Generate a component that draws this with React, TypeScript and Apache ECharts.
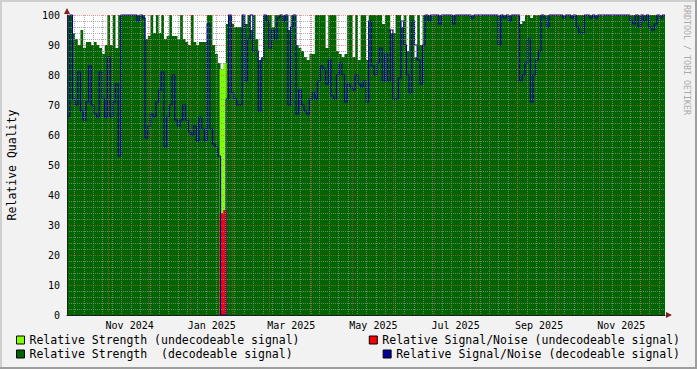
import React, { useEffect, useRef } from 'react';
import * as echarts from 'echarts';

// ---- data ----
const DAY = 86400000;
const START = Date.UTC(2024, 9, 1, 12); // left edge of the graph
const SPAN_DAYS = 444;
const END = START + SPAN_DAYS * DAY;
const STEP_DAYS = 2; // one sample every two days

// Relative Strength (decodeable signal), one value per 2-day sample
const strength: number[] = [
  100, 100, 94, 92, 90, 95, 89, 91, 91, 90,
  91, 90, 89, 87, 90, 100, 90, 100, 89, 100,
  100, 100, 100, 100, 100, 100, 100, 100, 100, 92,
  93, 100, 94, 100, 94, 100, 92, 93, 100, 93,
  93, 92, 100, 92, 91, 90, 100, 91, 90, 91,
  91, 91, 100, 100, 90, 87, 84, 0, 0, 97,
  100, 97, 96, 96, 96, 100, 97, 100, 95, 100,
  92, 85, 86, 100, 100, 100, 96, 100, 100, 100,
  100, 100, 95, 100, 100, 90, 89, 88, 86, 85,
  87, 87, 100, 100, 100, 100, 89, 100, 100, 100,
  88, 87, 86, 87, 100, 100, 86, 100, 85, 100,
  100, 85, 100, 100, 100, 100, 100, 97, 100, 100,
  94, 94, 100, 100, 96, 100, 88, 100, 100, 86,
  100, 90, 100, 100, 100, 100, 100, 100, 100, 100,
  100, 100, 100, 100, 100, 100, 100, 100, 100, 100,
  100, 100, 100, 100, 100, 100, 100, 100, 100, 100,
  100, 100, 100, 100, 100, 100, 100, 100, 97, 98,
  100, 100, 99, 100, 100, 100, 100, 100, 100, 100,
  100, 100, 100, 100, 100, 100, 100, 100, 100, 100,
  100, 100, 100, 100, 100, 100, 100, 100, 100, 100,
  100, 100, 100, 100, 100, 100, 100, 100, 100, 100,
  100, 100, 100, 100, 100, 100, 100, 100, 100, 100,
  100, 100,
];

// Relative Signal/Noise (decodeable signal)
const snr: number[] = [
  66, 100, 72, 70, 81, 68, 65, 71, 83, 70,
  67, 66, 81, 72, 66, 86, 66, 71, 77, 53,
  100, 100, 100, 100, 100, 100, 98, 100, 99, 59,
  63, 67, 66, 71, 75, 81, 56, 66, 70, 80,
  65, 63, 65, 70, 65, 61, 60, 63, 58, 66,
  62, 58, 97, 62, 57, 56, 53, 0, 0, 72,
  100, 74, 72, 70, 70, 100, 78, 92, 100, 88,
  88, 68, 85, 100, 98, 89, 95, 92, 99, 100,
  98, 100, 70, 96, 100, 67, 75, 70, 68, 67,
  72, 74, 72, 78, 83, 82, 77, 85, 73, 72,
  80, 84, 80, 71, 77, 76, 75, 80, 77, 76,
  78, 71, 98, 83, 80, 84, 89, 78, 87, 78,
  95, 72, 72, 79, 98, 90, 80, 74, 98, 90,
  85, 77, 90, 100, 98, 100, 100, 100, 97, 100,
  100, 100, 100, 97, 100, 100, 100, 100, 100, 100,
  99, 100, 100, 100, 100, 100, 100, 100, 100, 100,
  90, 100, 99, 100, 98, 100, 100, 100, 78, 80,
  84, 92, 71, 80, 85, 88, 100, 99, 96, 100,
  100, 100, 100, 100, 99, 100, 100, 99, 100, 96,
  94, 94, 100, 100, 99, 100, 99, 100, 100, 100,
  100, 100, 100, 100, 100, 100, 100, 100, 100, 98,
  97, 100, 96, 100, 98, 100, 96, 95, 97, 100,
  99, 100,
];

// undecodeable period (days after the graph start)
const undecDays = [113.3, 116, 118.5];
const undecStrength = [82, 84, 84];
const undecSnr = [34, 35, 35];

const monthNames = ['Jan', 'Feb', 'Mar', 'Apr', 'May', 'Jun', 'Jul', 'Aug', 'Sep', 'Oct', 'Nov', 'Dec'];
// labelled months [year, monthIndex]
const labelMonths: [number, number][] = [
  [2024, 10], [2025, 0], [2025, 2], [2025, 4], [2025, 6], [2025, 8], [2025, 10],
];
const LABEL_DAY = 17; // labels sit in the middle of the month

const NAME_S_UND = 'Relative Strength (undecodeable signal)';
const NAME_N_UND = 'Relative Signal/Noise (undecodeable signal)';
const NAME_S_DEC = 'Relative Strength  (decodeable signal)';
const NAME_N_DEC = 'Relative Signal/Noise (decodeable signal)';

const MONO = 'DejaVu Sans Mono';

function sampleTime(i: number) {
  return START + i * STEP_DAYS * DAY;
}

function seriesData(values: number[]) {
  const d: [number, number][] = values.map((v, i) => [sampleTime(i), v]);
  d.push([END, values[values.length - 1]]);
  return d;
}

function monthStarts() {
  const out: number[] = [];
  for (let y = 2024; y <= 2026; y++) {
    for (let m = 0; m < 12; m++) {
      const t = Date.UTC(y, m, 1);
      if (t > START && t < END) out.push(t);
    }
  }
  return out;
}

function weekStarts() {
  const out: number[] = [];
  // first Monday after the start
  let t = Date.UTC(2024, 9, 7);
  while (t < END) {
    out.push(t);
    t += 7 * DAY;
  }
  return out;
}

export default function App() {
  const ref = useRef<HTMLDivElement>(null);

  useEffect(() => {
    const el = ref.current;
    if (!el) return;
    const chart = echarts.init(el, null, { renderer: 'svg', width: 697, height: 369 });

    const gridColor = 'rgba(143,143,143,0.75)';
    const mgridColor = 'rgba(222,79,79,0.6)';

    const legendBase = {
      icon: 'rect',
      itemWidth: 8,
      itemHeight: 8,
      padding: 0,
      selectedMode: false,
      textStyle: { fontFamily: MONO, fontSize: 11.5, color: '#000' },
      itemStyle: { borderColor: '#000', borderWidth: 1 },
    };

    const undecS = undecDays.map((d, k) => [START + d * DAY, undecStrength[k]]);
    const undecN = undecDays.map((d, k) => [START + d * DAY, undecSnr[k]]);

    const option: any = {
      animation: false,
      backgroundColor: '#f2f2f2',
      textStyle: { fontFamily: MONO },
      grid: {
        left: 67, top: 15, width: 598, height: 300,
        show: true, backgroundColor: '#ffffff', borderWidth: 0,
      },
      xAxis: [
        {
          type: 'value', min: START, max: END, z: 5,
          axisLine: { show: true, onZero: false, lineStyle: { color: '#1f1f1f', width: 1 } },
          axisTick: { show: false, customValues: monthStarts() },
          splitLine: { show: true, lineStyle: { color: mgridColor, width: 1, type: [1, 1] } },
          axisLabel: {
            customValues: labelMonths.map(([y, m]) => Date.UTC(y, m, LABEL_DAY)),
            formatter: (v: number) => {
              const d = new Date(v);
              return monthNames[d.getUTCMonth()] + ' ' + d.getUTCFullYear();
            },
            color: '#000', fontFamily: MONO, fontSize: 10, margin: 5,
          },
        },
        {
          type: 'value', min: START, max: END, z: 4, position: 'bottom',
          axisLine: { show: false },
          axisLabel: { show: false },
          axisTick: { show: false, customValues: weekStarts() },
          splitLine: { show: true, lineStyle: { color: gridColor, width: 1, type: [1, 1] } },
        },
      ],
      yAxis: {
        type: 'value', min: 0, max: 100, interval: 10, z: 5,
        axisLine: { show: true, lineStyle: { color: '#1f1f1f', width: 1 } },
        axisTick: { show: false },
        axisLabel: { color: '#000', fontFamily: MONO, fontSize: 10, margin: 7 },
        splitLine: { show: true, lineStyle: { color: mgridColor, width: 1, type: [1, 1] } },
        minorTick: { show: false, splitNumber: 5 },
        minorSplitLine: { show: true, lineStyle: { color: gridColor, width: 1, type: [1, 1] } },
      },
      legend: [
        { ...legendBase, data: [NAME_S_UND], left: 16, top: 334 },
        { ...legendBase, data: [NAME_N_UND], right: 17, top: 334 },
        { ...legendBase, data: [NAME_S_DEC], left: 16, top: 348 },
        { ...legendBase, data: [NAME_N_DEC], right: 17, top: 348 },
      ],
      series: [
        {
          name: NAME_S_DEC, type: 'line', step: 'end', data: seriesData(strength),
          symbol: 'none', silent: true,
          itemStyle: { color: '#006400' },
          lineStyle: { width: 0 },
          areaStyle: { color: '#006400', opacity: 1 },
        },
        {
          name: NAME_S_UND, type: 'line', step: 'end', data: undecS,
          symbol: 'none', silent: true,
          itemStyle: { color: '#80ff00' },
          lineStyle: { width: 0 },
          areaStyle: { color: '#80ff00', opacity: 1 },
        },
        {
          name: NAME_N_UND, type: 'line', step: 'end', data: undecN,
          symbol: 'none', silent: true,
          itemStyle: { color: '#ff0000' },
          lineStyle: { width: 0 },
          areaStyle: { color: '#ff0000', opacity: 1 },
        },
        {
          name: NAME_N_DEC, type: 'line', step: 'end', data: seriesData(snr),
          symbol: 'none', silent: true, clip: false,
          itemStyle: { color: '#000099' },
          lineStyle: { color: '#000099', width: 1.2 },
        },
      ],
      graphic: [
        { type: 'rect', silent: true, shape: { x: 0, y: 0, width: 697, height: 2 }, style: { fill: '#cfcfcf' } },
        { type: 'rect', silent: true, shape: { x: 0, y: 0, width: 2, height: 369 }, style: { fill: '#cfcfcf' } },
        { type: 'rect', silent: true, shape: { x: 0, y: 367, width: 697, height: 2 }, style: { fill: '#9e9e9e' } },
        { type: 'rect', silent: true, shape: { x: 695, y: 0, width: 2, height: 369 }, style: { fill: '#9e9e9e' } },
        { type: 'polygon', silent: true, shape: { points: [[64, 14], [70, 14], [67, 8]] }, style: { fill: '#801f1f' } },
        { type: 'polygon', silent: true, shape: { points: [[666, 312], [666, 318], [672, 315]] }, style: { fill: '#801f1f' } },
        {
          type: 'text', silent: true, x: 12, y: 165, rotation: Math.PI / 2,
          style: { text: 'Relative Quality', fontFamily: MONO, fontSize: 11.5, fill: '#000', align: 'center', verticalAlign: 'middle' },
        },
        {
          type: 'text', silent: true, x: 687, y: 60, rotation: -Math.PI / 2,
          style: { text: 'RRDTOOL / TOBI OETIKER', fontFamily: MONO, fontSize: 8.3, fill: '#aaaaaa', align: 'center', verticalAlign: 'middle' },
        },
      ],
    };

    chart.setOption(option);
    return () => chart.dispose();
  }, []);

  return (
    <div
      ref={ref}
      style={{ position: 'fixed', left: 0, top: 0, width: 697, height: 369 }}
    />
  );
}
